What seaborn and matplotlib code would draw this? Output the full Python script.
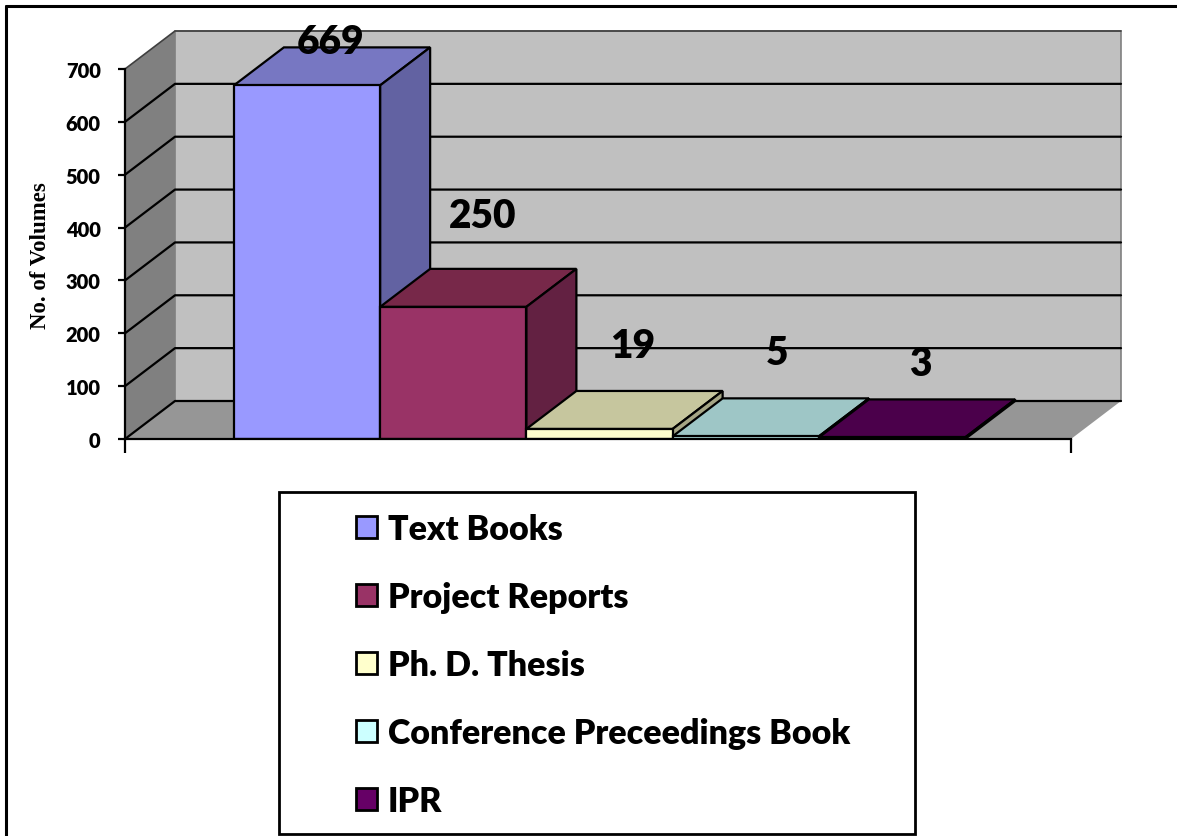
import pandas as pd
import matplotlib
matplotlib.use('Agg')
import matplotlib.pyplot as plt
from matplotlib.lines import Line2D
from matplotlib.patches import Polygon, Rectangle
import seaborn as sns

# values
categories = ['Text Books', 'Project Reports', 'Ph. D. Thesis', 'Conference Preceedings Book', 'IPR']
volumes = [669, 250, 19, 5, 3]
y_ticks = [0, 100, 200, 300, 400, 500, 600, 700]

# colours of the faces
front_colors = ['#9999FF', '#993366', '#FFFFCC', '#CCFFFF', '#660066']
top_colors = ['#7777C2', '#772849', '#C6C69E', '#9EC6C6', '#4B004B']
side_colors = ['#6262A2', '#632142', '#A5A585', '#85A5A5', '#420042']

# layout, in pixels of the 1177x837 picture
W, H = 1177, 837
AX_LEFT, AX_RIGHT, AX_BASE, AX_TOP = 125, 1071, 440, 70
DEPTH_X, DEPTH_Y = 50, 38
label_shift_x = [24, 29, 33, 31, 28]
label_y = [43, 217, 346, 354, 364]

df = pd.DataFrame({'group': [''] * len(categories), 'type': categories, 'volumes': volumes})

sns.set_theme(style='white')
plt.rcParams['font.family'] = ['Lato', 'DejaVu Sans']
plt.rcParams['text.color'] = 'black'

fig = plt.figure(figsize=(W / 100, H / 100), dpi=100)
ax = fig.add_axes([AX_LEFT / W, 1 - AX_BASE / H, (AX_RIGHT - AX_LEFT) / W, (AX_BASE - AX_TOP) / H])

sns.barplot(data=df, x='group', y='volumes', hue='type', hue_order=categories, palette=front_colors,
            width=0.773, saturation=1, edgecolor='black', linewidth=1.6, legend=False, ax=ax)

# bars sit a little right of the middle of the floor
x0, x1 = -0.5016, 0.4984
ax.set_xlim(x0, x1)
y_max = 700
ax.set_ylim(0, y_max)

# depth of the fake 3d box, in data units
dx = DEPTH_X / (AX_RIGHT - AX_LEFT)
dy = DEPTH_Y / (AX_BASE - AX_TOP) * y_max


def face(points, color, z, edge='none', lw=0):
    ax.add_patch(Polygon(points, closed=True, facecolor=color, edgecolor=edge, linewidth=lw,
                         zorder=z, clip_on=False))


# walls and floor
face([(x0 + dx, dy), (x1 + dx, dy), (x1 + dx, y_max + dy), (x0 + dx, y_max + dy)], '#C0C0C0', 0.2, '#808080', 1.2)
face([(x0, 0), (x0 + dx, dy), (x0 + dx, y_max + dy), (x0, y_max)], '#808080', 0.3)
face([(x0, 0), (x1, 0), (x1 + dx, dy), (x0 + dx, dy)], '#969696', 0.3)

# grid lines go round the left wall and along the back wall
for v in y_ticks:
    if v < y_max:
        ax.plot([x0, x0 + dx, x1 + dx], [v, v + dy, v + dy], color='black', lw=1.6, zorder=0.5, clip_on=False)
ax.plot([x0, x0 + dx, x1 + dx], [y_max, y_max + dy, y_max + dy], color='#404040', lw=1.2, zorder=0.5, clip_on=False)

# tops and sides of the bars, left to right so each bar covers the one before
bars = [p for p in ax.patches if isinstance(p, Rectangle) and p.get_height() > 0][:len(categories)]
for i, bar in enumerate(bars):
    left, right = bar.get_x(), bar.get_x() + bar.get_width()
    top = bar.get_height()
    z = 2 + i
    bar.set_zorder(z + 0.1)
    face([(left, top), (right, top), (right + dx, top + dy), (left + dx, top + dy)], top_colors[i], z, 'black', 1.6)
    face([(right, 0), (right + dx, dy), (right + dx, top + dy), (right, top)], side_colors[i], z, 'black', 1.6)

    px_x = AX_LEFT + ((left + right) / 2 - x0) * (AX_RIGHT - AX_LEFT) + label_shift_x[i]
    ax.text(px_x / W, 1 - label_y[i] / H, str(volumes[i]), transform=fig.transFigure, ha='center', va='center',
            fontsize=28, fontweight='heavy', color='black', zorder=20)

# axes
sns.despine(ax=ax, top=True, right=True)
for side in ['left', 'bottom']:
    ax.spines[side].set_color('black')
    ax.spines[side].set_linewidth(1.6)
    ax.spines[side].set_zorder(15)
ax.set_yticks(y_ticks)
ax.set_xticks([x0, x1])
ax.set_xticklabels(['', ''])
ax.tick_params(axis='y', length=5, width=1.6, color='black', pad=12.5)
ax.tick_params(axis='x', length=10, width=1.6, color='black')
ax.tick_params(axis='both', left=True, bottom=True)
for lab in ax.get_yticklabels():
    lab.set_fontsize(14.5)
    lab.set_fontweight('heavy')
    lab.set_color('black')
ax.set_xlabel('')
ax.set_ylabel('No. of Volumes', fontsize=16.5, fontweight='bold', family='Liberation Serif', color='black')
ax.yaxis.set_label_coords((51 - AX_LEFT) / (AX_RIGHT - AX_LEFT), (AX_BASE - 256) / (AX_BASE - AX_TOP))

# legend box
fig.add_artist(Rectangle((279 / W, 1 - 835 / H), (915 - 279) / W, (835 - 493) / H, transform=fig.transFigure,
                         facecolor='white', edgecolor='black', linewidth=2))
leg = fig.legend(bars, categories, loc='upper left', bbox_to_anchor=(334 / W, 1 - 492 / H), frameon=False,
                 prop={'size': 24.5, 'weight': 'heavy'}, labelspacing=1.06, handlelength=0.62, handleheight=0.62,
                 handletextpad=0.32, borderpad=0.65, borderaxespad=0)
for h in leg.legend_handles:
    h.set_linewidth(2)
    h.set_edgecolor('black')

# page border, only top and left are drawn
fig.add_artist(Line2D([6 / W, 1], [1 - 7 / H, 1 - 7 / H], transform=fig.transFigure, color='black', lw=2.2))
fig.add_artist(Line2D([6 / W, 6 / W], [0, 1 - 7 / H], transform=fig.transFigure, color='black', lw=2.2))

fig.savefig('out.png', dpi=100)
